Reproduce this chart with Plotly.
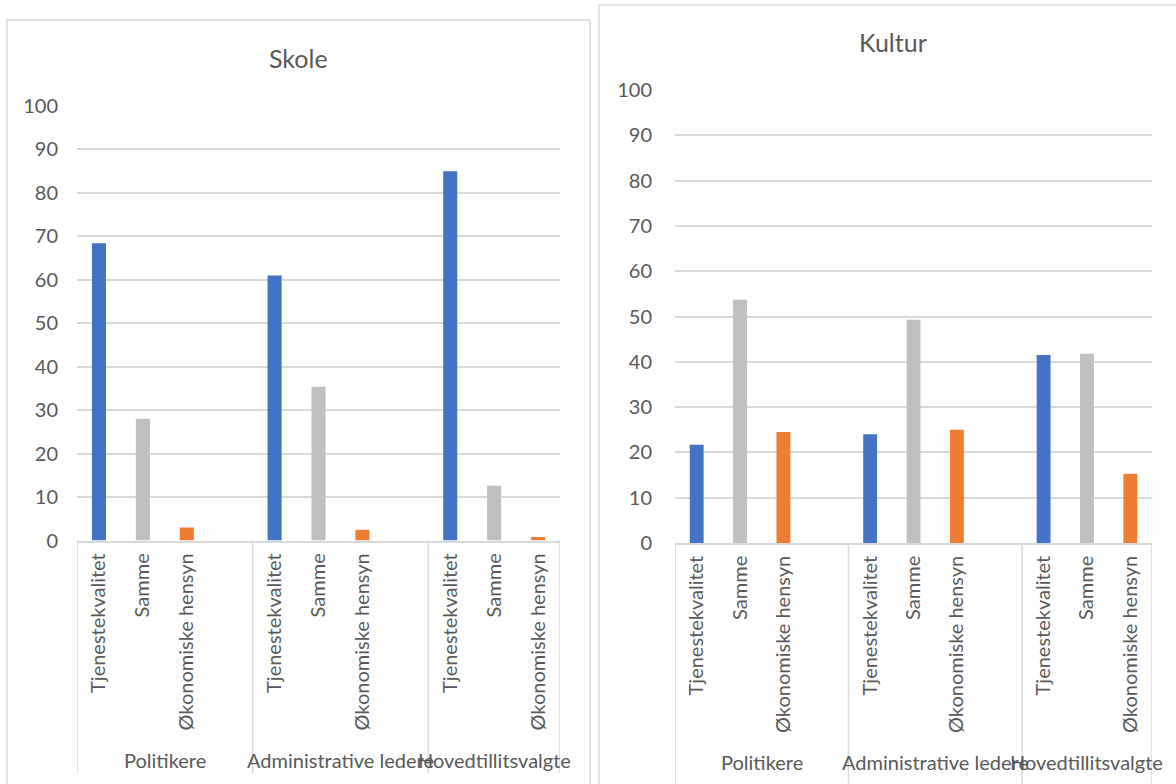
import plotly.graph_objects as go

groups = ["Politikere", "Administrative ledere", "Hovedtillitsvalgte"]
categories = ["Tjenestekvalitet", "Samme", "Økonomiske hensyn"]
y_ticks = [0, 10, 20, 30, 40, 50, 60, 70, 80, 90, 100]

# Skole: values per category, in group order
skole_tjenestekvalitet = [68.4, 61.0, 85.0]
skole_samme = [28.0, 35.4, 12.6]
skole_okonomiske = [3.0, 2.5, 0.8]

# Kultur
kultur_tjenestekvalitet = [21.7, 24.0, 41.5]
kultur_samme = [53.7, 49.3, 41.8]
kultur_okonomiske = [24.5, 25.0, 15.3]

colors = ["#4472C4", "#BFBFBF", "#ED7D31"]
GRID = "#D9D9D9"
TXT = "#595959"
FONT = "Lato"
W, H = 1176, 784

slot = len(categories) + 1  # one blank slot between groups
n_slots = slot * len(groups) - 1
tickvals = [g * slot + c for g in range(len(groups)) for c in range(len(categories))]
ticktext = [categories[c] for g in range(len(groups)) for c in range(len(categories))]
group_centers = []
dividers = [-0.5]
for g in range(len(groups)):
    start = g * slot - 0.5
    end = min((g + 1) * slot - 0.5, n_slots - 0.5)
    group_centers.append((start + end) / 2)
    dividers.append(end)

fig = go.Figure()

panels = [
    dict(name="Skole", data=[skole_tjenestekvalitet, skole_samme, skole_okonomiske],
         xa="x", ya="y", xdom=[77 / W, 560 / W], ydom=[1 - 540.5 / H, 1 - 106 / H],
         title_xy=(298, 58), group_y=760, div_bottom=773, standoff=18,
         box=(7, 590, 20)),
    dict(name="Kultur", data=[kultur_tjenestekvalitet, kultur_samme, kultur_okonomiske],
         xa="x2", ya="y2", xdom=[675 / W, 1152 / W], ydom=[1 - 543 / H, 1 - 90 / H],
         title_xy=(893, 42), group_y=762, div_bottom=790, standoff=22,
         box=(599, 1190, 5)),
]

for p in panels:
    for ci, cat in enumerate(categories):
        fig.add_trace(go.Bar(
            x=[g * slot + ci for g in range(len(groups))],
            y=p["data"][ci],
            name=cat,
            marker=dict(color=colors[ci], line=dict(width=0)),
            width=0.32,
            xaxis=p["xa"], yaxis=p["ya"],
            showlegend=False,
        ))

layout_axes = {}
for i, p in enumerate(panels):
    sfx = "" if i == 0 else str(i + 1)
    layout_axes["xaxis" + sfx] = dict(
        domain=p["xdom"], anchor=p["ya"], range=[-0.5, n_slots - 0.5],
        tickmode="array", tickvals=tickvals, ticktext=ticktext, tickangle=-90,
        showgrid=False, zeroline=False, showline=True, linecolor=GRID, linewidth=1.5,
        ticks="", ticklabelstandoff=3, automargin=False,
        tickfont=dict(family=FONT, size=20, color=TXT), fixedrange=True,
    )
    layout_axes["yaxis" + sfx] = dict(
        domain=p["ydom"], anchor=p["xa"], range=[0, 100],
        tickmode="array", tickvals=y_ticks,
        showgrid=True, gridcolor=GRID, gridwidth=1.5, zeroline=False, showline=False,
        ticks="", ticklabelstandoff=p["standoff"], automargin=False,
        tickfont=dict(family=FONT, size=20, color=TXT), fixedrange=True,
    )

shapes = []
annotations = []
for p in panels:
    # panel border
    x0, x1, top = p["box"]
    shapes.append(dict(type="rect", xref="paper", yref="paper",
                       x0=x0 / W, x1=x1 / W, y0=-0.1, y1=1 - top / H,
                       line=dict(color=GRID, width=1.5), fillcolor="rgba(0,0,0,0)", layer="below"))
    # group dividers
    for d in dividers:
        shapes.append(dict(type="line", xref=p["xa"], yref="paper",
                           x0=d, x1=d, y0=1 - p["div_bottom"] / H, y1=p["ydom"][0],
                           line=dict(color=GRID, width=1.5)))
    # group labels
    for g, gc in zip(groups, group_centers):
        annotations.append(dict(text=g, x=gc, xref=p["xa"], y=1 - p["group_y"] / H, yref="paper",
                                xanchor="center", yanchor="middle", showarrow=False,
                                font=dict(family=FONT, size=20, color=TXT)))
    # title
    tx, ty = p["title_xy"]
    annotations.append(dict(text=p["name"], x=tx / W, y=1 - ty / H, xref="paper", yref="paper",
                            xanchor="center", yanchor="middle", showarrow=False,
                            font=dict(family=FONT, size=25, color=TXT)))

fig.update_layout(
    width=W, height=H,
    margin=dict(l=0, r=0, t=0, b=0, pad=0, autoexpand=False),
    paper_bgcolor="white", plot_bgcolor="white",
    barmode="overlay",
    showlegend=False,
    shapes=shapes,
    annotations=annotations,
    **layout_axes,
)

fig.write_html(
    "out.html",
    config={"displayModeBar": False},
    post_script="document.body.style.margin='0';document.body.style.overflow='hidden';",
)
